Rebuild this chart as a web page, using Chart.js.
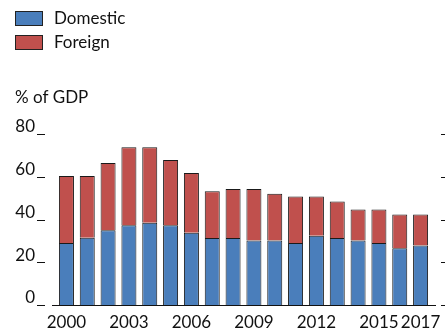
<!DOCTYPE html>
<html>
<head>
<meta charset="utf-8">
<script src="https://cdn.jsdelivr.net/npm/chart.js@4/dist/chart.umd.min.js"></script>
<style>
html,body{margin:0;padding:0;background:#fff;}
#wrap{position:relative;width:445px;height:330px;}
</style>
</head>
<body>
<div id="wrap"><canvas id="c" width="445" height="330"></canvas></div>
<script>
const years = ['2000','2001','2002','2003','2004','2005','2006','2007','2008','2009','2010','2011','2012','2013','2014','2015','2016','2017'];
const shownYears = ['2000','2003','2006','2009','2012','2015','2017'];
const domestic = [29.0, 31.5, 35.0, 37.3, 38.5, 37.3, 33.8, 31.3, 31.3, 30.2, 30.2, 29.0, 32.4, 31.3, 30.2, 29.0, 26.5, 27.8];
const foreign  = [31.3, 28.8, 31.4, 36.5, 35.3, 30.5, 27.9, 21.9, 23.0, 24.1, 21.8, 21.8, 18.4, 17.1, 14.5, 15.7, 15.8, 14.5];
const yTicks = [0, 20, 40, 60, 80];
const seriesNames = ['Domestic', 'Foreign'];
const unitLabel = '% of GDP';

const FONT = 'Lato, "Open Sans", sans-serif';
const BLUE = '#4a7ebb';
const RED = '#c0504d';

const decor = {
  id: 'decor',
  afterDraw(chart) {
    const ctx = chart.ctx;
    const y = chart.scales.y;
    const area = chart.chartArea;
    ctx.save();
    const items = [[seriesNames[0], BLUE, 11], [seriesNames[1], RED, 35]];
    ctx.font = '17px ' + FONT;
    ctx.textBaseline = 'middle';
    ctx.textAlign = 'left';
    items.forEach(([name, col, top]) => {
      ctx.fillStyle = col;
      ctx.fillRect(15, top, 28, 15);
      ctx.strokeStyle = '#222';
      ctx.lineWidth = 1;
      ctx.strokeRect(15.5, top + 0.5, 27, 14);
      ctx.fillStyle = '#111';
      ctx.fillText(name, 54, top + 8);
    });
    ctx.textBaseline = 'alphabetic';
    ctx.fillText(unitLabel, 15, 103);
    ctx.strokeStyle = '#111';
    ctx.lineWidth = 1;
    yTicks.forEach(v => {
      const py = Math.round(y.getPixelForValue(v)) + 0.5;
      ctx.beginPath();
      ctx.moveTo(37, py); ctx.lineTo(45, py);
      ctx.moveTo(441, py); ctx.lineTo(445, py);
      ctx.stroke();
    });
    const by = Math.round(y.getPixelForValue(0)) + 0.5;
    ctx.beginPath();
    ctx.moveTo(area.left - 4, by); ctx.lineTo(area.right + 5, by);
    ctx.stroke();
    ctx.restore();
  }
};

new Chart(document.getElementById('c'), {
  type: 'bar',
  data: {
    labels: years,
    datasets: [
      { label: seriesNames[0], data: domestic, backgroundColor: BLUE, borderColor: '#1a1a1a', borderWidth: 1 },
      { label: seriesNames[1], data: foreign, backgroundColor: RED, borderColor: '#1a1a1a', borderWidth: 1 }
    ]
  },
  options: {
    responsive: false,
    animation: false,
    devicePixelRatio: 1,
    layout: { padding: { top: 134, right: 14, left: 0, bottom: 0 } },
    plugins: { legend: { display: false }, tooltip: { enabled: false } },
    datasets: { bar: { categoryPercentage: 0.72, barPercentage: 1 } },
    scales: {
      x: {
        stacked: true,
        grid: { display: false, drawTicks: false },
        border: { display: false },
        ticks: {
          autoSkip: false, maxRotation: 0, padding: 7,
          color: '#111', font: { family: FONT, size: 17 },
          callback: function(v, i) { const l = years[i]; return shownYears.includes(l) ? l : ''; }
        },
        afterFit(s) { s.height = 25; s.paddingLeft = 0; s.paddingRight = 0; }
      },
      y: {
        stacked: true, min: 0, max: 80,
        grid: { display: false, drawTicks: false },
        border: { display: false },
        ticks: {
          stepSize: 20, padding: 21, labelOffset: -7,
          color: '#111', font: { family: FONT, size: 17 }
        },
        afterFit(s) { s.width = 56; s.paddingTop = 0; s.paddingBottom = 0; }
      }
    }
  },
  plugins: [decor]
});
</script>
</body>
</html>
